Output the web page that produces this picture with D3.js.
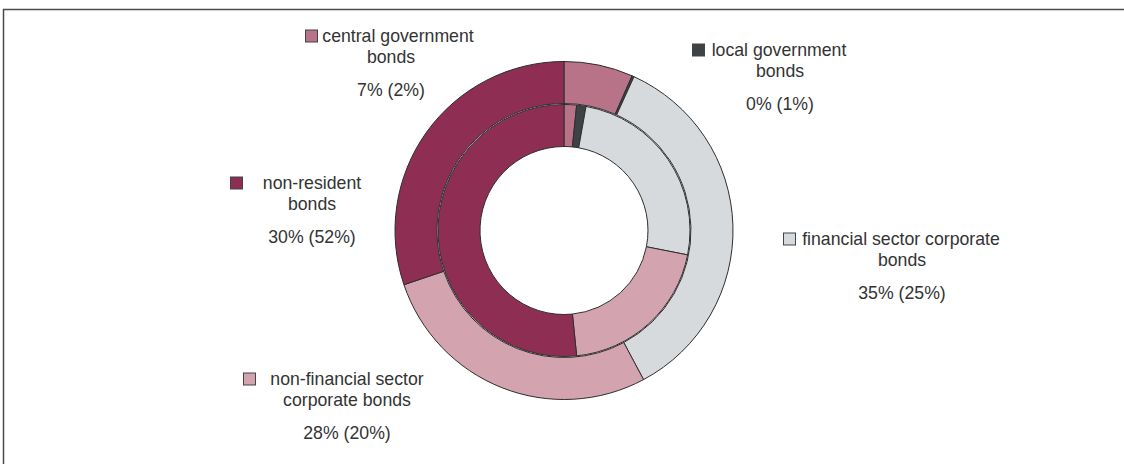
<!DOCTYPE html>
<html lang="en">
<head>
    <meta charset="UTF-8">
    <title>Bond holdings</title>
    <script src="https://d3js.org/d3.v7.min.js"></script>
    <style>
        body { margin: 0; background: #fff; }
        svg { display: block; }
    </style>
</head>
<body>
    <script>
        // data (outer ring = first share, inner ring = share in brackets)
        var categories = [
            ["central government", "bonds"],
            ["local government", "bonds"],
            ["financial sector corporate", "bonds"],
            ["non-financial sector", "corporate bonds"],
            ["non-resident", "bonds"]
        ];
        var outerValues = [6.6, 0.2, 35.4, 27.6, 30.2];
        var innerValues = [1.6, 1.2, 25.3, 20.3, 51.6];
        var outerLabels = ["7%", "0%", "35%", "28%", "30%"];
        var innerLabels = ["2%", "1%", "25%", "20%", "52%"];
        var colors = ["#b87388", "#3f4245", "#d7dadd", "#d4a3b0", "#8f2e53"];

        // label layout: centre x of first line (x1) and other lines (x), baseline of first line, square x
        var labelPos = [
            {x1: 398, x: 391, y: 42, sq: 305},
            {x1: 779, x: 780, y: 56, sq: 692},
            {x1: 901, x: 902, y: 245, sq: 783},
            {x1: 347, x: 347, y: 385, sq: 243},
            {x1: 312, x: 312, y: 189, sq: 230}
        ];

        var width = 1124, height = 464;
        var cx = 564, cy = 230.5;

        var svg = d3.select("body")
            .append("svg")
            .attr("width", width)
            .attr("height", height);

        // frame
        svg.append("path")
            .attr("d", "M3.5," + height + " V9.5 H" + width)
            .style("fill", "none")
            .style("stroke", "#4a4a4a")
            .style("stroke-width", 1.5);

        var pie = d3.pie().sort(null).value(function(d){ return d; });
        var outerArc = d3.arc().innerRadius(127).outerRadius(169);
        var innerArc = d3.arc().innerRadius(84).outerRadius(126);

        var g = svg.append("g").attr("transform", "translate(" + cx + "," + cy + ")");

        g.selectAll("path.outer")
            .data(pie(outerValues))
            .enter().append("path")
            .attr("class", "outer")
            .attr("d", outerArc)
            .style("fill", function(d, i){ return colors[i]; })
            .style("stroke", "#2e2e2e")
            .style("stroke-width", 1);

        g.selectAll("path.inner")
            .data(pie(innerValues))
            .enter().append("path")
            .attr("class", "inner")
            .attr("d", innerArc)
            .style("fill", function(d, i){ return colors[i]; })
            .style("stroke", "#2e2e2e")
            .style("stroke-width", 1);

        // labels
        var labels = svg.selectAll("g.label")
            .data(categories)
            .enter().append("g")
            .attr("class", "label");

        labels.each(function(lines, i){
            var lab = d3.select(this);
            var p = labelPos[i];
            lab.append("rect")
                .attr("x", p.sq + 0.5)
                .attr("y", p.y - 12)
                .attr("width", 12)
                .attr("height", 12)
                .style("fill", colors[i])
                .style("stroke", "#444")
                .style("stroke-width", 1);
            lines.forEach(function(t, k){
                lab.append("text")
                    .attr("x", k === 0 ? p.x1 : p.x)
                    .attr("y", p.y + k * 20.5)
                    .attr("text-anchor", "middle")
                    .text(t);
            });
            lab.append("text")
                .attr("x", p.x)
                .attr("y", p.y + 54)
                .attr("text-anchor", "middle")
                .text(outerLabels[i] + " (" + innerLabels[i] + ")");
        });

        svg.selectAll("text")
            .style("font-family", "'Liberation Sans', Arial, sans-serif")
            .style("font-size", "17.7px")
            .style("fill", "#333");
    </script>
</body>
</html>
